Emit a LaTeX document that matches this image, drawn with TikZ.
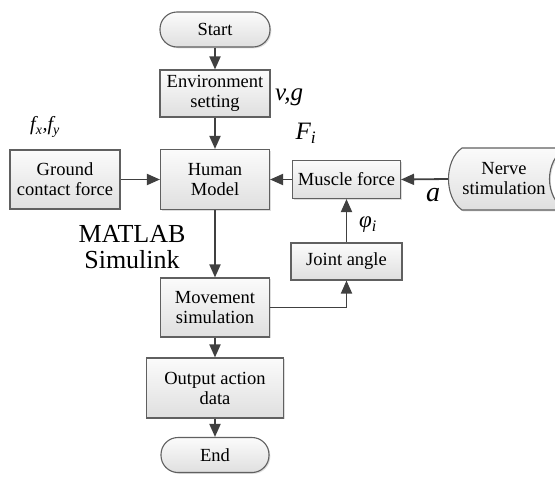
\documentclass[tikz,border=0pt]{standalone}
\usepackage{fontspec}
\setmainfont{Liberation Serif}
\usetikzlibrary{arrows.meta,shadows}
\begin{document}
\begin{tikzpicture}[x=1pt,y=-1pt,
 box/.style={draw=gray!75!black, line width=1.1pt, top color=gray!3, bottom color=gray!25,
   drop shadow={shadow xshift=1.3pt,shadow yshift=-1.3pt,fill=gray!45,opacity=0.6},
   align=center, font=\fontsize{18.5}{20}\selectfont, inner sep=2pt},
 term/.style={box, rounded corners=17pt},
 arr/.style={draw=black!75, line width=1.8pt, -{Triangle[length=13pt,width=11pt]}},
 lab/.style={font=\fontsize{25}{25}\selectfont\itshape, inner sep=0pt},
]
\useasboundingbox (0,0) rectangle (555,477);

\node[term, minimum width=110pt, minimum height=35pt] (start) at (215,29.5) {Start};
\node[box, minimum width=110pt, minimum height=47pt] (env) at (215,93.5) {Environment\\setting};
\node[box, minimum width=109pt, minimum height=60pt] (human) at (215,179.5) {Human\\Model};
\node[box, minimum width=110pt, minimum height=59pt] (ground) at (65,179.5) {Ground\\contact force};
\node[box, minimum width=108pt, minimum height=38pt] (muscle) at (346.5,179.5) {Muscle force};
\node[box, minimum width=111pt, minimum height=37pt] (joint) at (346.5,261.5) {Joint angle};
\node[box, minimum width=109pt, minimum height=59pt] (move) at (215,307.5) {Movement\\simulation};
\node[box, minimum width=137pt, minimum height=60pt] (out) at (215,388) {Output action\\data};
\node[term, minimum width=108pt, minimum height=35pt] (end) at (215,455) {End};

% Nerve stimulation (stored data shape)
\path[draw=gray!75!black, line width=1.1pt, top color=gray!3, bottom color=gray!25,
   drop shadow={shadow xshift=1.3pt,shadow yshift=-1.3pt,fill=gray!45,opacity=0.6}]
  (462,148) -- (566,148) .. controls (544,160) and (544,198) .. (566,210)
  -- (462,210) .. controls (444,198) and (444,160) .. (462,148) -- cycle;
\node[align=center, font=\fontsize{18.5}{20}\selectfont, minimum width=112pt, inner sep=2pt] (nerve) at (504,179) {Nerve\\stimulation};

\draw[arr] (start) -- (env);
\draw[arr] (env) -- (human);
\draw[arr] (ground) -- (human);
\draw[arr] (muscle) -- (human);
\draw[arr] (nerve.west) -- (muscle.east);
\draw[arr] (joint) -- (muscle);
\draw[arr] (human) -- (move);
\draw[arr] (move.east) -| (joint.south);
\draw[arr] (move) -- (out);
\draw[arr] (out) -- (end);

\node[lab] (vg) at (289,97) {v,g};
\node[lab] (Fi) at (306,133) {F\textsubscript{i}};
\node[lab, font=\fontsize{20}{20}\selectfont\itshape] (fxy) at (45,127) {f\textsubscript{x},f\textsubscript{y}};
\node[lab, font=\fontsize{28}{28}\selectfont\itshape] (a) at (433,195) {a};
\node[lab, font=\fontsize{23}{23}\selectfont\itshape] (phi) at (368,225) {φ\textsubscript{i}};
\node[font=\fontsize{26}{26}\selectfont, align=center, inner sep=0pt, anchor=north] (mat) at (132,225) {MATLAB\\Simulink};
\end{tikzpicture}
\end{document}
